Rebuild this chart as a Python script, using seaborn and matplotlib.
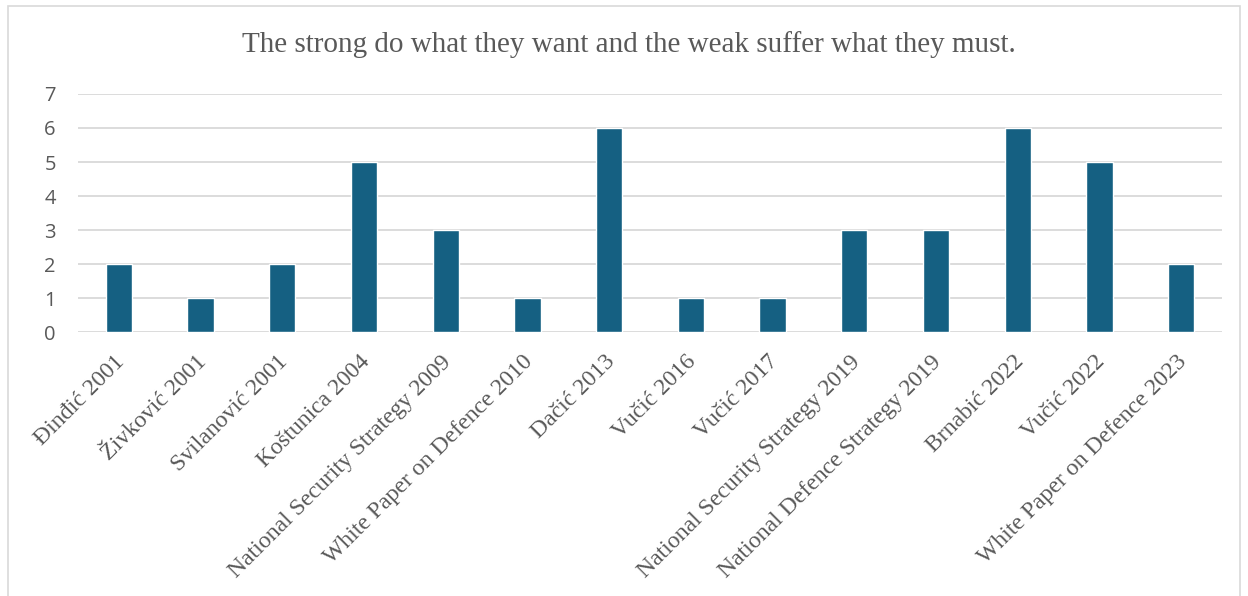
import matplotlib
matplotlib.use("Agg")
import matplotlib.pyplot as plt
import matplotlib.transforms as mtransforms
import seaborn as sns
import pandas as pd
from matplotlib.patches import Rectangle

categories = ["Đinđić 2001", "Živković 2001", "Svilanović 2001", "Koštunica 2004",
              "National Security Strategy 2009", "White Paper on Defence 2010",
              "Dačić 2013", "Vučić 2016", "Vučić 2017", "National Security Strategy 2019",
              "National Defence Strategy 2019", "Brnabić 2022", "Vučić 2022",
              "White Paper on Defence 2023"]
values = [2, 1, 2, 5, 3, 1, 6, 1, 1, 3, 3, 6, 5, 2]
title = "The strong do what they want and the weak suffer what they must."

df = pd.DataFrame({"cat": categories, "val": values})

sns.set_theme(style="white")
W, H, DPI = 1248, 596, 100
fig = plt.figure(figsize=(W / DPI, H / DPI), dpi=DPI)
ax = fig.add_axes([78 / W, 1 - 332 / H, (1222 - 78) / W, (332 - 94) / H])

sns.barplot(data=df, x="cat", y="val", color="#156082", width=0.32,
            saturation=1, ax=ax, zorder=3)
ax.set_ylim(0, 7)
ax.set_xlim(-0.5, len(categories) - 0.5)
ax.set_yticks(range(0, 8))
ax.yaxis.grid(True, color="#d9d9d9", linewidth=1.3, zorder=0)
ax.set_axisbelow(True)
for s in ax.spines.values():
    s.set_visible(False)
ax.set_xlabel("")
ax.set_ylabel("")
ax.tick_params(axis="both", length=0)
ax.tick_params(axis="y", pad=16)
for lab in ax.get_yticklabels():
    lab.set_fontfamily("Open Sans")
    lab.set_fontsize(14.5)
    lab.set_color("#595959")
ax.set_xticks(range(len(categories)))
ax.set_xticklabels(categories, rotation=45, ha="right", rotation_mode="anchor",
                   fontfamily="Liberation Serif", fontsize=17.1, color="#595959")
ax.tick_params(axis="x", pad=14)
offset = mtransforms.ScaledTranslation(-5 / DPI, 0, fig.dpi_scale_trans)
for lab in ax.get_xticklabels():
    lab.set_transform(lab.get_transform() + offset)

fig.text(629 / W, 1 - 45 / H, title, ha="center", va="center",
         fontfamily="Liberation Serif", fontsize=21, color="#595959")

fig.patches.append(Rectangle((8 / W, -0.05), (1240 - 8) / W, 1 - 6 / H + 0.05,
                             transform=fig.transFigure, fill=False,
                             edgecolor="#d9d9d9", linewidth=1.2))

fig.savefig("out.png", dpi=DPI, facecolor="white")
